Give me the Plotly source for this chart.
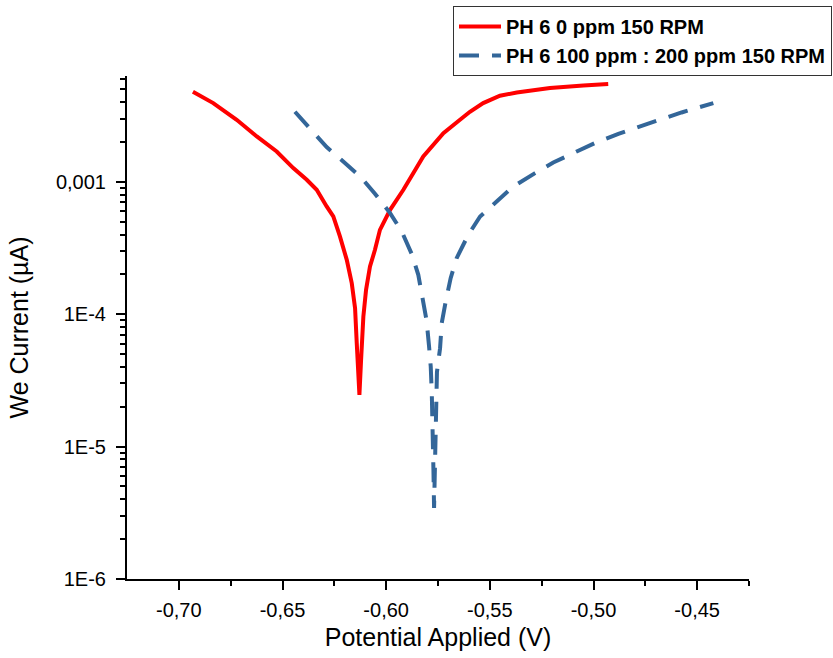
import plotly.graph_objects as go

# Tafel scans: potential (V) and current
pot_0ppm = [-0.6932, -0.6834, -0.6721, -0.6624, -0.6528, -0.6448, -0.6383, -0.6335,
            -0.6287, -0.6255, -0.6223, -0.6190, -0.6166, -0.6150, -0.6142, -0.6133,
            -0.6129, -0.6121, -0.6110, -0.6097, -0.6078, -0.6054, -0.6030, -0.5981,
            -0.5917, -0.5821, -0.5724, -0.5644, -0.5596, -0.5532, -0.5451, -0.5370,
            -0.5210, -0.5049, -0.4929]
cur_0ppm = [4.80e-3, 3.94e-3, 2.946e-3, 2.204e-3, 1.697e-3, 1.272e-3, 1.037e-3, 8.72e-4,
            6.52e-4, 5.48e-4, 3.87e-4, 2.577e-4, 1.718e-4, 1.112e-4, 6.08e-5, 3.80e-5,
            2.46e-5, 4.52e-5, 9.61e-5, 1.529e-4, 2.294e-4, 3.067e-4, 4.34e-4, 6.15e-4,
            8.72e-4, 1.556e-3, 2.337e-3, 2.946e-3, 3.386e-3, 3.94e-3, 4.475e-3, 4.74e-3,
            5.12e-3, 5.355e-3, 5.487e-3]

pot_200ppm = [-0.6440, -0.6367, -0.6287, -0.6207, -0.6118, -0.6054, -0.5981, -0.5925,
              -0.5877, -0.5845, -0.5821, -0.5805, -0.5793, -0.5785, -0.5780, -0.5774,
              -0.5772, -0.5769, -0.5764, -0.5760, -0.5755, -0.5740, -0.5732, -0.5713,
              -0.5689, -0.5660, -0.5604, -0.5547, -0.5459, -0.5387, -0.5282, -0.5194,
              -0.5081, -0.4993, -0.4880, -0.4784, -0.4671, -0.4575, -0.4454, -0.4422]
cur_200ppm = [3.386e-3, 2.551e-3, 1.832e-3, 1.426e-3, 1.068e-3, 8.13e-4, 5.81e-4, 4.22e-4,
              2.86e-4, 1.985e-4, 1.285e-4, 8.96e-5, 5.70e-5, 4.02e-5, 2.546e-5, 1.337e-5,
              6.67e-6, 3.44e-6, 7.93e-6, 1.736e-5, 3.67e-5, 5.54e-5, 8.56e-5, 1.247e-4,
              1.875e-4, 2.655e-4, 3.98e-4, 5.48e-4, 7.32e-4, 9.23e-4, 1.165e-3, 1.401e-3,
              1.697e-3, 1.965e-3, 2.309e-3, 2.578e-3, 2.983e-3, 3.346e-3, 3.76e-3, 3.94e-3]

x_ticks = [-0.70, -0.65, -0.60, -0.55, -0.50, -0.45]
x_labels = ["-0,70", "-0,65", "-0,60", "-0,55", "-0,50", "-0,45"]
x_minor = [-0.675, -0.625, -0.575, -0.525, -0.475, -0.425]
y_ticks = [1e-6, 1e-5, 1e-4, 1e-3]
y_labels = ["1E-6", "1E-5", "1E-4", "0,001"]
y_minor = [m * d for d in [1e-6, 1e-5, 1e-4, 1e-3] for m in range(2, 10)]

W, H = 833, 658

fig = go.Figure()
fig.add_trace(go.Scatter(x=pot_0ppm, y=cur_0ppm, mode="lines",
                         name="PH 6 0 ppm 150 RPM",
                         line=dict(color="#FF0000", width=4)))
fig.add_trace(go.Scatter(x=pot_200ppm, y=cur_200ppm, mode="lines",
                         name="PH 6 100 ppm : 200 ppm 150 RPM",
                         line=dict(color="#336699", width=4, dash="20px,13px")))

axis_common = dict(showline=True, linecolor="black", linewidth=2, ticks="outside",
                   ticklen=9, tickwidth=2, tickcolor="black", showgrid=False,
                   zeroline=False, mirror=False, automargin=False,
                   tickfont=dict(family="Liberation Sans, Arial", size=20, color="black"))

fig.update_xaxes(range=[-0.725, -0.425], domain=[127 / W, 749 / W],
                 tickmode="array", tickvals=x_ticks, ticktext=x_labels,
                 ticklabelstandoff=3,
                 minor=dict(tickmode="array", tickvals=x_minor, ticks="outside",
                            ticklen=5, tickwidth=2, tickcolor="black"),
                 title=dict(text="Potential Applied (V)", standoff=8,
                            font=dict(family="Liberation Sans, Arial", size=25, color="black")),
                 **axis_common)
fig.update_yaxes(type="log", range=[-6, -2.2], domain=[79 / H, 582 / H],
                 tickmode="array", tickvals=y_ticks, ticktext=y_labels,
                 ticklabelstandoff=6,
                 minor=dict(tickmode="array", tickvals=y_minor, ticks="outside",
                            ticklen=5, tickwidth=2, tickcolor="black"),
                 title=dict(text="We Current (µA)", standoff=20,
                            font=dict(family="Liberation Sans, Arial", size=25, color="black")),
                 **axis_common)

fig.update_layout(
    width=W, height=H,
    margin=dict(l=0, r=0, t=0, b=0),
    plot_bgcolor="white", paper_bgcolor="white",
    legend=dict(x=453 / W, y=1 - 6 / H, xanchor="left", yanchor="top",
                bgcolor="white", bordercolor="#333333", borderwidth=1,
                font=dict(family="Liberation Sans, Arial", size=20, color="black", weight="bold"),
                tracegroupgap=0, itemwidth=42),
    showlegend=True,
)

fig.write_html("out.html", config={"displayModeBar": False},
               post_script="document.body.style.margin='0';")
